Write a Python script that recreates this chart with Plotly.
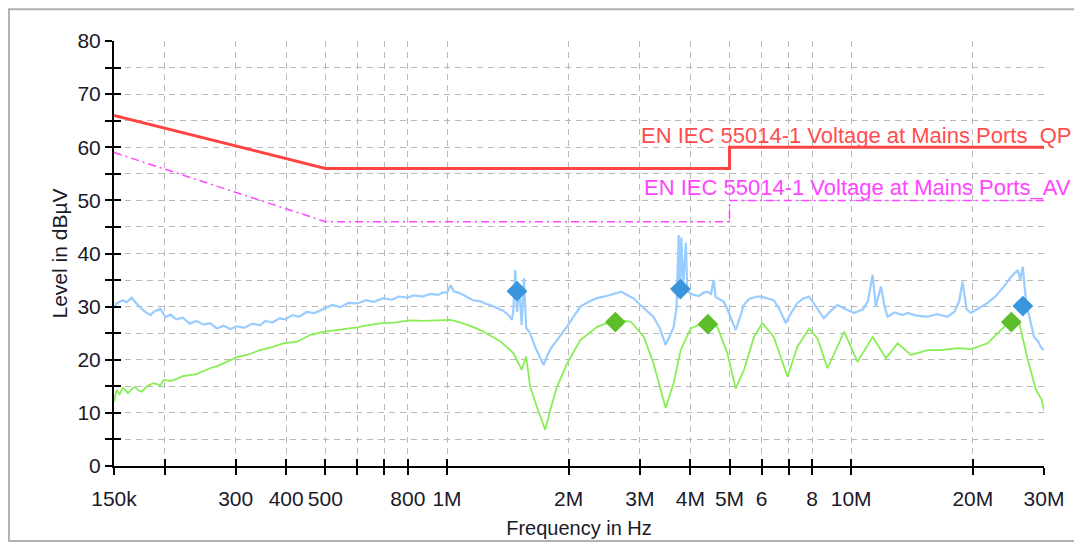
import numpy as np
import plotly.graph_objects as go

# frequencies in MHz, levels in dBuV
peak_freq = [0.150, 0.152, 0.155, 0.158, 0.161, 0.164, 0.166, 0.169, 0.172, 0.176,
             0.180, 0.1846, 0.188, 0.1954, 0.1989, 0.2012, 0.207, 0.214, 0.222, 0.231,
             0.240, 0.250, 0.259, 0.270, 0.280, 0.291, 0.302, 0.315, 0.330, 0.345,
             0.355, 0.370, 0.385, 0.398, 0.415, 0.430, 0.450, 0.470, 0.499, 0.520,
             0.545, 0.570, 0.600, 0.630, 0.660, 0.695, 0.730, 0.760, 0.796, 0.830,
             0.870, 0.910, 0.950, 0.980, 1.00, 1.02, 1.04, 1.08, 1.12, 1.16,
             1.21, 1.25, 1.28, 1.33, 1.38, 1.42, 1.447, 1.46, 1.475, 1.49,
             1.51, 1.53, 1.55, 1.57, 1.606, 1.65, 1.70, 1.734, 1.77, 1.82,
             1.872, 1.93, 1.98, 2.06, 2.14, 2.24, 2.35, 2.48, 2.636, 2.70,
             2.79, 2.90, 3.01, 3.12, 3.24, 3.36, 3.475, 3.56, 3.64, 3.70,
             3.743, 3.77, 3.80, 3.84, 3.90, 3.93, 4.00, 4.08, 4.20, 4.30,
             4.41, 4.50, 4.57, 4.62, 4.70, 4.84, 4.94, 5.05, 5.18, 5.30,
             5.42, 5.60, 5.86, 5.97, 6.20, 6.43, 6.65, 6.89, 7.10, 7.37,
             7.60, 7.86, 8.10, 8.56, 8.90, 9.25, 9.70, 10.16, 10.7, 11.0,
             11.3, 11.5, 11.85, 12.1, 12.31, 12.8, 13.4, 13.8, 14.5, 15.46,
             16.3, 17.32, 18.0, 18.5, 18.87, 19.3, 19.78, 20.8, 21.76, 22.8,
             23.89, 24.8, 25.83, 26.2, 26.58, 27.0, 27.35, 28.34, 29.0, 29.5,
             30.0]
peak_level = [29.8, 30.6, 30.9, 31.2, 30.8, 31.3, 31.7, 30.9, 30.2, 29.5,
              28.9, 28.4, 29.0, 29.6, 28.6, 28.0, 28.5, 27.6, 27.9, 26.8,
              27.3, 26.6, 26.9, 25.9, 26.4, 25.8, 26.3, 26.0, 26.8, 26.5,
              27.3, 27.0, 27.8, 27.6, 28.4, 28.1, 29.0, 28.8, 29.7, 30.3,
              29.9, 30.7, 30.6, 31.2, 30.9, 31.6, 31.3, 31.9, 31.7, 32.1,
              31.9, 32.4, 32.2, 32.7, 32.6, 34.0, 32.9, 32.5, 31.8, 31.2,
              31.0, 30.5, 30.3, 29.7, 29.2, 28.4, 27.5, 29.5, 36.9, 29.0,
              33.5, 26.5, 35.4, 26.0, 25.0, 22.5, 20.5, 19.0, 20.8, 22.5,
              23.7, 25.0, 26.2, 28.2, 30.0, 30.9, 31.6, 32.0, 32.5, 32.8,
              32.2, 31.5, 30.3, 29.3, 28.1, 26.0, 22.8, 24.5, 26.2, 30.0,
              43.5, 33.0, 43.0, 34.0, 42.0, 33.0, 32.5, 32.2, 32.0, 32.6,
              32.8, 32.4, 35.0, 31.8, 31.5, 30.9, 29.5, 27.5, 25.6, 27.8,
              30.3, 31.5, 31.9, 31.9, 31.5, 31.2, 29.5, 26.9, 28.8, 30.7,
              31.5, 31.9, 30.5, 27.8, 29.2, 30.3, 29.5, 28.8, 29.5, 31.0,
              36.0, 30.0, 33.8, 30.0, 28.1, 28.9, 28.4, 28.8, 28.3, 28.1,
              28.6, 28.1, 29.0, 31.0, 34.7, 29.5, 28.8, 29.8, 30.7, 32.0,
              33.8, 35.5, 36.9, 35.0, 37.5, 32.0, 29.4, 24.3, 23.5, 22.3,
              21.8]

avg_freq = [0.150, 0.1523, 0.155, 0.1579, 0.1624, 0.1665, 0.1691, 0.1725, 0.1755, 0.181,
            0.1878, 0.1954, 0.1989, 0.2067, 0.2144, 0.222, 0.231, 0.240, 0.2592, 0.270,
            0.285, 0.3019, 0.320, 0.3446, 0.365, 0.3937, 0.4257, 0.445, 0.4595, 0.4993,
            0.54, 0.5985, 0.64, 0.6945, 0.74, 0.81, 0.87, 0.9791, 1.02, 1.08,
            1.1601, 1.23, 1.30, 1.3532, 1.4577, 1.5318, 1.5699, 1.6062, 1.68, 1.7506,
            1.80, 1.8718, 1.9817, 2.1383, 2.3518, 2.50, 2.6107, 2.8455, 3.0693, 3.244,
            3.38, 3.4753, 3.6376, 3.7853, 4.0075, 4.4083, 4.6663, 4.9403, 5.1803, 5.4307,
            5.7494, 6.0316, 6.4334, 6.9593, 7.3674, 7.8703, 8.2559, 8.741, 9.6087, 10.373,
            11.30, 12.192, 13.031, 14.057, 15.459, 16.676, 18.341, 19.784, 21.764, 23.484,
            24.862, 26.063, 27.346, 28.669, 29.162, 29.6, 30.0]
avg_level = [12.1, 14.3, 13.5, 14.7, 13.7, 14.6, 14.9, 14.2, 14.0, 15.0,
             15.6, 15.2, 16.2, 16.0, 16.4, 16.9, 17.1, 17.3, 18.4, 18.8,
             19.6, 20.5, 20.9, 21.8, 22.3, 23.1, 23.4, 24.2, 24.7, 25.3,
             25.6, 26.1, 26.5, 26.9, 27.0, 27.4, 27.3, 27.5, 27.5, 27.0,
             26.2, 25.3, 24.3, 23.5, 21.3, 18.1, 20.6, 14.9, 10.5, 6.8,
             10.5, 14.9, 19.3, 23.7, 26.2, 27.0, 27.5, 27.2, 24.3, 19.3,
             14.0, 10.9, 15.6, 21.8, 25.9, 27.2, 26.2, 21.2, 14.6, 18.1,
             24.3, 26.9, 24.3, 16.8, 22.5, 25.9, 24.0, 18.4, 25.3, 19.6,
             24.3, 20.3, 23.1, 20.9, 21.8, 21.8, 22.2, 22.0, 23.1, 25.6,
             27.5, 26.9, 20.0, 14.3, 13.4, 12.5, 10.5]

peak_mark_freq = [1.49, 3.78, 26.6]
peak_mark_level = [32.9, 33.3, 30.1]
avg_mark_freq = [2.61, 4.42, 24.9]
avg_mark_level = [27.1, 26.7, 27.1]

limit_freq = [0.15, 0.5, 5.0, 5.0, 30.0]
qp_limit = [66, 56, 56, 60, 60]
av_limit = [59, 46, 46, 50, 50]

tick_vals = [0.15, 0.2, 0.3, 0.4, 0.5, 0.6, 0.7, 0.8, 1, 2, 3, 4, 5, 6, 7, 8, 10, 20, 30]
tick_text = ['150k', '', '300', '400', '500', '', '', '800', '1M', '2M', '3M', '4M', '5M',
             '6', '', '8', '10M', '20M', '30M']

FONT = 'Liberation Sans, Arial, sans-serif'
x_range = [np.log10(0.15), np.log10(30)]

fig = go.Figure()
fig.add_trace(go.Scatter(x=limit_freq, y=qp_limit, mode='lines',
                         line=dict(color='#ff4444', width=3), hoverinfo='skip'))
fig.add_trace(go.Scatter(x=limit_freq, y=av_limit, mode='lines',
                         line=dict(color='#ff44ff', width=1.5, dash='8px,4px,2px,4px'),
                         hoverinfo='skip'))
fig.add_trace(go.Scatter(x=peak_freq, y=peak_level, mode='lines',
                         line=dict(color='#99ccff', width=2.2)))
fig.add_trace(go.Scatter(x=avg_freq, y=avg_level, mode='lines',
                         line=dict(color='#88ee55', width=1.8)))
fig.add_trace(go.Scatter(x=peak_mark_freq, y=peak_mark_level, mode='markers',
                         marker=dict(symbol='diamond', size=16, color='#3a96dc')))
fig.add_trace(go.Scatter(x=avg_mark_freq, y=avg_mark_level, mode='markers',
                         marker=dict(symbol='diamond', size=16, color='#5cbf2a')))
# dummy trace so the overlay axes (inner half of the ticks) get drawn
fig.add_trace(go.Scatter(x=[None], y=[None], xaxis='x2', yaxis='y2', hoverinfo='skip'))

fig.add_annotation(text='EN IEC 55014-1 Voltage at Mains Ports_QP', xref='paper', yref='y',
                   x=1.031, y=62.3, xanchor='right', yanchor='middle', showarrow=False,
                   font=dict(family=FONT, size=22, color='#ff4d4d'))
fig.add_annotation(text='EN IEC 55014-1 Voltage at Mains Ports_AV', xref='paper', yref='y',
                   x=1.031, y=52.5, xanchor='right', yanchor='middle', showarrow=False,
                   font=dict(family=FONT, size=22, color='#ff44ff'))

# outer frame of the picture
fig.add_shape(type='rect', xref='paper', yref='paper', x0=-0.113, x1=1.06, y0=-0.1765, y1=1.075,
              line=dict(color='#b0b0b0', width=2))

grid = dict(showgrid=True, gridcolor='#b8b8b8', gridwidth=1.2, griddash='6px,5px')
# page body adds an 8px offset, so the figure is 8px smaller than the window
fig.update_layout(
    width=1074, height=536, autosize=False,
    margin=dict(l=106, r=38, t=33, b=78),
    paper_bgcolor='white', plot_bgcolor='white',
    showlegend=False,
    font=dict(family=FONT, size=21, color='#1a1a2a'),
    xaxis=dict(type='log', range=x_range, tickvals=tick_vals, ticktext=tick_text,
               ticks='outside', ticklen=7, tickwidth=2, tickcolor='black',
               showline=True, linecolor='black', linewidth=2, zeroline=False,
               ticklabelstandoff=6, automargin=False,
               title=dict(text='Frequency in Hz', standoff=12, font=dict(size=20)), **grid),
    yaxis=dict(range=[0, 80], dtick=10, ticks='outside', ticklen=7, tickwidth=2,
               tickcolor='black', showline=True, linecolor='black', linewidth=2,
               zeroline=False, automargin=False,
               minor=dict(dtick=5, ticks='outside', ticklen=7, tickwidth=2, tickcolor='black',
                          showgrid=True, gridcolor='#b8b8b8', gridwidth=1.2, griddash='6px,5px'),
               title=dict(text='Level in dBµV', standoff=4, font=dict(size=21)), **grid),
    xaxis2=dict(type='log', range=x_range, overlaying='x', anchor='y', side='bottom',
                tickvals=tick_vals, ticks='inside', ticklen=7, tickwidth=2, tickcolor='black',
                showticklabels=False, showgrid=False, zeroline=False, showline=False),
    yaxis2=dict(range=[0, 80], overlaying='y', anchor='x', side='left', dtick=10,
                ticks='inside', ticklen=7, tickwidth=2, tickcolor='black',
                minor=dict(dtick=5, ticks='inside', ticklen=7, tickwidth=2, tickcolor='black'),
                showticklabels=False, showgrid=False, zeroline=False, showline=False),
)

fig.write_html('out.html')
